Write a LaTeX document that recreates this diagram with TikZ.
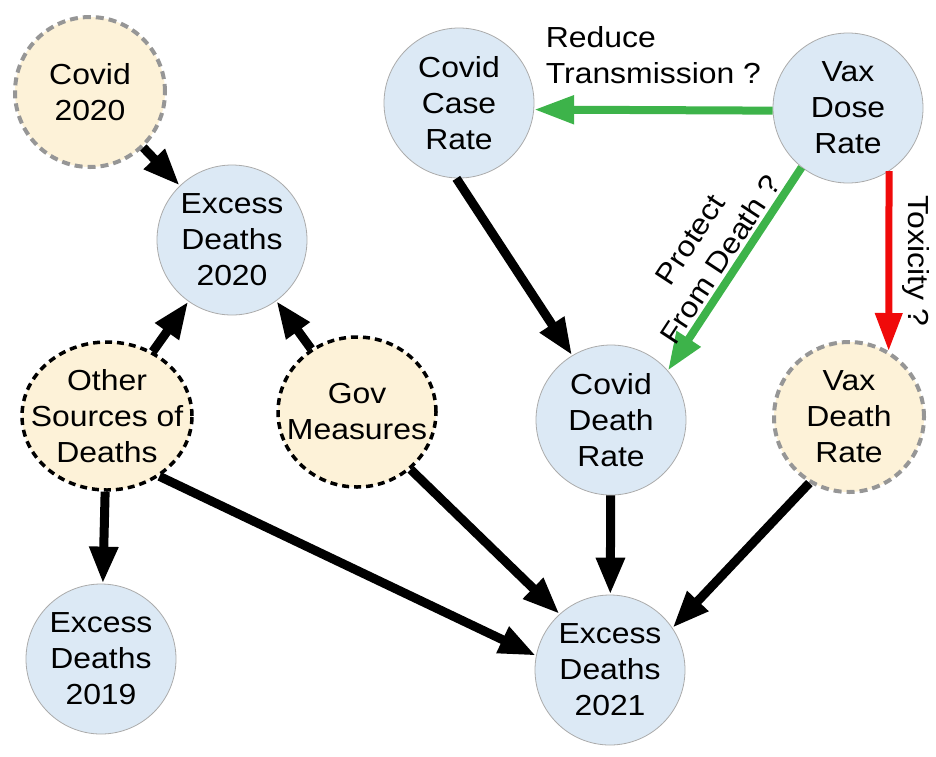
\documentclass[tikz,border=0pt]{standalone}
\usepackage{fontspec}
\setmainfont{Liberation Sans}[FakeStretch=1.1]
\usepackage{tikz}
\usetikzlibrary{shapes,arrows.meta}
\definecolor{bleu}{RGB}{220,233,245}
\definecolor{beige}{RGB}{253,242,216}
\definecolor{vert}{RGB}{61,179,74}
\definecolor{rouge}{RGB}{240,10,10}
\definecolor{gris}{RGB}{150,150,150}
\tikzset{taux/.style={
    circle, fill=bleu, draw=gris!80, line width=0.8pt,
    minimum size=150pt, inner sep=0pt, align=center},
  cause/.style={
    circle, fill=beige, draw=gris, line width=4pt,
    dash pattern=on 8pt off 5pt,
    minimum size=150pt, inner sep=0pt, align=center},
  cachee/.style={
    ellipse, fill=beige, draw=black, line width=3.5pt,
    dash pattern=on 7pt off 5pt,
    inner xsep=-25pt, inner ysep=0pt, align=center},
  fleche/.style={
    draw=black, line width=9pt,
    -{Triangle[length=37pt,width=27pt]}}}

\begin{document}
\begin{tikzpicture}[x=1pt,y=-1pt,font=\fontsize{29}{36}\selectfont]
\useasboundingbox (0,0) rectangle (936,756);
\coordinate (C20) at (90,92);
\coordinate (E20) at (232,240);
\coordinate (OS) at (107,416);
\coordinate (GM) at (357,412);
\coordinate (E19) at (101,659);
\coordinate (CC) at (459,103);
\coordinate (VD) at (848,108);
\coordinate (CD) at (611,420);
\coordinate (VM) at (849,417);
\coordinate (E21) at (610,670);

\node[cause] (c20) at (C20) {Covid\\2020};
\node[taux] (ed20) at (E20) {Excess\\Deaths\\2020};
\node[cachee, minimum width=170pt, minimum height=148pt] (osd) at (OS) {Other\\Sources of\\Deaths};
\node[cachee, minimum width=158pt, minimum height=150pt] (gov) at (GM) {Gov\\Measures};
\node[taux] (ed19) at (E19) {Excess\\Deaths\\2019};
\node[taux] (ccr) at (CC) {Covid\\Case\\Rate};
\node[taux] (vdo) at (VD) {Vax\\Dose\\Rate};
\node[taux] (cdr) at (CD) {Covid\\Death\\Rate};
\node[cause] (vdr) at (VM) {Vax\\Death\\Rate};
\node[taux] (ed21) at (E21) {Excess\\Deaths\\2021};

\path[fleche] (c20) -- (ed20);
\path[fleche] (osd) -- (ed20);
\path[fleche] (gov) -- (ed20);
\path[fleche] (osd) -- (ed19);
\path[fleche] (osd.-49) -- (ed21.169);
\path[fleche] (gov.-47) -- (ed21.132);
\path[fleche] (cdr) -- (ed21);
\path[fleche] (vdr.239) -- (ed21.34);
\path[fleche] (ccr.268) -- (cdr.121);

\path[draw=vert, line width=8pt, -{Triangle[length=40pt,width=27pt]}]
  (vdo.182) -- node[midway, above=20pt, align=left, inner sep=2pt] {Reduce\\Transmission ?} (ccr.-5);
\path[draw=vert, line width=8pt, -{Triangle[length=38pt,width=27pt]}]
  (vdo.232) -- node[midway, sloped, above=2pt, align=center, inner sep=1pt] {Protect\\From Death ?} (cdr.41);
\path[draw=rouge, line width=7pt, -{Triangle[length=38pt,width=26pt]}]
  (vdo.303) -- node[midway, sloped, allow upside down, above=8pt, inner sep=2pt] {Toxicity ?} (vdr.59);
\end{tikzpicture}
\end{document}
